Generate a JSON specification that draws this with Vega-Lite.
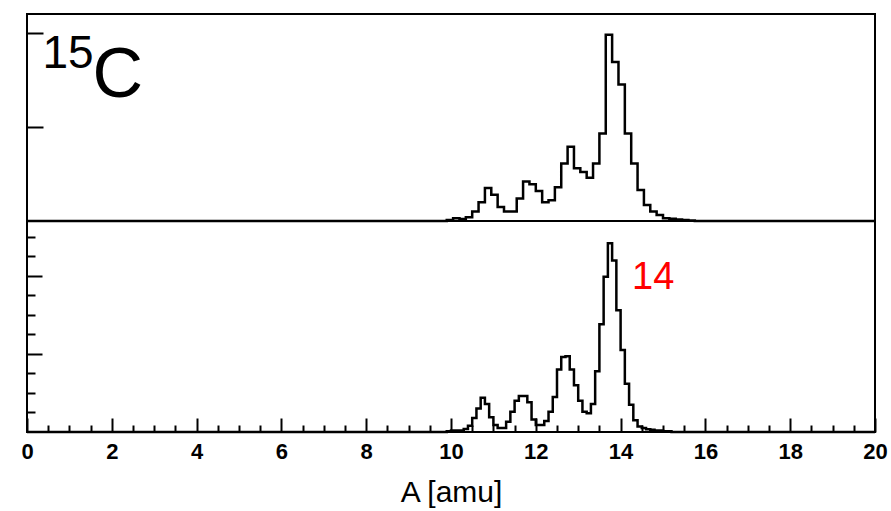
{
  "$schema": "https://vega.github.io/schema/vega-lite/v6.json",
  "autosize": {"type": "pad"},
  "padding": {"left": 19, "top": 13, "right": 5, "bottom": 2},
  "background": "white",
  "spacing": 0,
  "bounds": "flush",
  "config": {
    "view": {"stroke": "black", "strokeWidth": 2},
    "font": "Liberation Sans",
    "axis": {"domain": false, "grid": false, "tickColor": "black", "tickWidth": 2, "labelColor": "black", "titleColor": "black"}
  },
  "datasets": {
    "top": [
      {"A": 0, "count": 0},
      {"A": 9.9, "count": 0.01},
      {"A": 10.05, "count": 0.03},
      {"A": 10.2, "count": 0.02},
      {"A": 10.35, "count": 0.04},
      {"A": 10.5, "count": 0.1},
      {"A": 10.65, "count": 0.2},
      {"A": 10.8, "count": 0.35},
      {"A": 10.95, "count": 0.28},
      {"A": 11.1, "count": 0.15},
      {"A": 11.25, "count": 0.1},
      {"A": 11.4, "count": 0.1},
      {"A": 11.55, "count": 0.24},
      {"A": 11.7, "count": 0.42},
      {"A": 11.85, "count": 0.39},
      {"A": 12.0, "count": 0.32},
      {"A": 12.15, "count": 0.2},
      {"A": 12.3, "count": 0.22},
      {"A": 12.45, "count": 0.36},
      {"A": 12.6, "count": 0.61},
      {"A": 12.75, "count": 0.79},
      {"A": 12.9, "count": 0.56},
      {"A": 13.05, "count": 0.52},
      {"A": 13.2, "count": 0.46},
      {"A": 13.35, "count": 0.61},
      {"A": 13.5, "count": 0.93},
      {"A": 13.65, "count": 1.98},
      {"A": 13.8, "count": 1.69},
      {"A": 13.95, "count": 1.45},
      {"A": 14.1, "count": 0.93},
      {"A": 14.25, "count": 0.61},
      {"A": 14.4, "count": 0.33},
      {"A": 14.55, "count": 0.17},
      {"A": 14.7, "count": 0.1},
      {"A": 14.85, "count": 0.064},
      {"A": 15.0, "count": 0.03},
      {"A": 15.15, "count": 0.025},
      {"A": 15.3, "count": 0.015},
      {"A": 15.45, "count": 0.01},
      {"A": 15.6, "count": 0.005},
      {"A": 15.75, "count": 0},
      {"A": 20, "count": 0}
    ],
    "bottom": [
      {"A": 0, "count": 0},
      {"A": 9.9, "count": 0.01},
      {"A": 10.0, "count": 0.02},
      {"A": 10.1, "count": 0.02},
      {"A": 10.2, "count": 0.02},
      {"A": 10.3, "count": 0.04},
      {"A": 10.4, "count": 0.08},
      {"A": 10.5, "count": 0.18},
      {"A": 10.6, "count": 0.3},
      {"A": 10.7, "count": 0.44},
      {"A": 10.8, "count": 0.36},
      {"A": 10.9, "count": 0.19},
      {"A": 11.0, "count": 0.09},
      {"A": 11.1, "count": 0.05},
      {"A": 11.2, "count": 0.05},
      {"A": 11.3, "count": 0.13},
      {"A": 11.4, "count": 0.26},
      {"A": 11.5, "count": 0.4},
      {"A": 11.6, "count": 0.46},
      {"A": 11.7, "count": 0.46},
      {"A": 11.8, "count": 0.38},
      {"A": 11.9, "count": 0.16},
      {"A": 12.0, "count": 0.09},
      {"A": 12.1, "count": 0.09},
      {"A": 12.2, "count": 0.14},
      {"A": 12.3, "count": 0.26},
      {"A": 12.4, "count": 0.45},
      {"A": 12.5, "count": 0.8},
      {"A": 12.6, "count": 0.96},
      {"A": 12.7, "count": 0.97},
      {"A": 12.8, "count": 0.8},
      {"A": 12.9, "count": 0.6},
      {"A": 13.0, "count": 0.4},
      {"A": 13.1, "count": 0.26},
      {"A": 13.2, "count": 0.24},
      {"A": 13.3, "count": 0.36},
      {"A": 13.4, "count": 0.78},
      {"A": 13.5, "count": 1.38},
      {"A": 13.6, "count": 1.99},
      {"A": 13.7, "count": 2.42},
      {"A": 13.8, "count": 2.2},
      {"A": 13.9, "count": 1.56},
      {"A": 14.0, "count": 1.05},
      {"A": 14.1, "count": 0.62},
      {"A": 14.2, "count": 0.35},
      {"A": 14.3, "count": 0.15},
      {"A": 14.4, "count": 0.07},
      {"A": 14.5, "count": 0.05},
      {"A": 14.6, "count": 0.035},
      {"A": 14.7, "count": 0.03},
      {"A": 14.8, "count": 0.02},
      {"A": 14.9, "count": 0.02},
      {"A": 15.0, "count": 0.01},
      {"A": 15.1, "count": 0.01},
      {"A": 15.2, "count": 0},
      {"A": 20, "count": 0}
    ]
  },
  "vconcat": [
    {
      "width": 848,
      "height": 207,
      "layer": [
        {
          "data": {"name": "top"},
          "mark": {"type": "line", "interpolate": "step-after", "color": "black", "strokeWidth": 2.5},
          "encoding": {
            "x": {"field": "A", "type": "quantitative", "scale": {"domain": [0, 20], "nice": false, "zero": false}, "axis": null},
            "y": {"field": "count", "type": "quantitative", "scale": {"domain": [0, 2.2], "nice": false}, "axis": {"values": [1, 2], "tickSize": -16, "labels": false, "title": null}}
          }
        },
        {
          "data": {"values": [{"A": 0.365, "count": 1.628, "text": "15"}]},
          "mark": {"type": "text", "align": "left", "baseline": "alphabetic", "fontSize": 46, "color": "black"},
          "encoding": {
            "x": {"field": "A", "type": "quantitative", "scale": {"domain": [0, 20], "nice": false, "zero": false}},
            "y": {"field": "count", "type": "quantitative"},
            "text": {"field": "text"}
          }
        },
        {
          "data": {"values": [{"A": 1.545, "count": 1.319, "text": "C"}]},
          "mark": {"type": "text", "align": "left", "baseline": "alphabetic", "fontSize": 70, "color": "black"},
          "encoding": {
            "x": {"field": "A", "type": "quantitative", "scale": {"domain": [0, 20], "nice": false, "zero": false}},
            "y": {"field": "count", "type": "quantitative"},
            "text": {"field": "text"}
          }
        }
      ]
    },
    {
      "width": 848,
      "height": 211,
      "resolve": {"axis": {"x": "independent", "y": "independent"}},
      "layer": [
        {
          "data": {"name": "bottom"},
          "mark": {"type": "line", "interpolate": "step-after", "color": "black", "strokeWidth": 2.5},
          "encoding": {
            "x": {"field": "A", "type": "quantitative", "scale": {"domain": [0, 20], "nice": false, "zero": false},
                  "axis": {"orient": "bottom", "values": [0, 2, 4, 6, 8, 10, 12, 14, 16, 18, 20], "tickSize": -14, "labelPadding": 23, "labelFlush": false, "labelFontSize": 22, "labelFontWeight": "bold", "labelBaseline": "top", "title": "A [amu]", "titleFontSize": 30, "titleFontWeight": "normal", "titlePadding": 15}},
            "y": {"field": "count", "type": "quantitative", "scale": {"domain": [0, 2.705], "nice": false},
                  "axis": {"orient": "left", "values": [1, 2], "tickSize": -15, "labels": false, "title": null}}
          }
        },
        {
          "data": {"values": [{"A": 14.27, "count": 1.833, "text": "14"}]},
          "mark": {"type": "text", "align": "left", "baseline": "alphabetic", "fontSize": 38, "color": "#ff0000"},
          "encoding": {
            "x": {"field": "A", "type": "quantitative", "scale": {"domain": [0, 20], "nice": false, "zero": false},
                  "axis": {"orient": "bottom", "values": [0.5, 1, 1.5, 2.5, 3, 3.5, 4.5, 5, 5.5, 6.5, 7, 7.5, 8.5, 9, 9.5, 10.5, 11, 11.5, 12.5, 13, 13.5, 14.5, 15, 15.5, 16.5, 17, 17.5, 18.5, 19, 19.5], "tickSize": -7, "labels": false, "title": null}},
            "y": {"field": "count", "type": "quantitative", "scale": {"domain": [0, 2.705], "nice": false},
                  "axis": {"orient": "left", "values": [0.25, 0.5, 0.75, 1.25, 1.5, 1.75, 2.25, 2.5], "tickSize": -8, "labels": false, "title": null}},
            "text": {"field": "text"}
          }
        }
      ]
    }
  ]
}
